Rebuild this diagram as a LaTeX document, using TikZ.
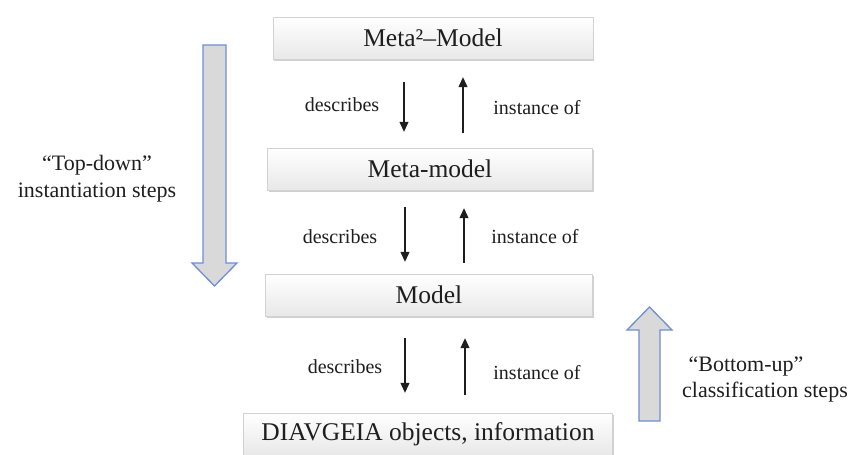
\documentclass[tikz,border=0pt]{standalone}
\usepackage{fontspec}
\setmainfont{Liberation Serif}
\usetikzlibrary{arrows.meta,shadows}
\definecolor{txt}{HTML}{1E1E1E}
\definecolor{bigfill}{HTML}{D9D9D9}
\definecolor{bigline}{HTML}{6C8FD6}
\tikzset{
  box/.style={draw=gray!35, line width=0.4pt, shading=axis, top color=white, bottom color=gray!18,
    minimum height=42pt, inner sep=0pt, font=\fontsize{25.5}{28}\selectfont, text=txt,
    drop shadow={shadow xshift=1.2pt, shadow yshift=-2.2pt, opacity=0.5, fill=gray!75}},
  lbl/.style={font=\fontsize{20}{22}\selectfont, text=txt, inner sep=0pt},
  side/.style={font=\fontsize{22}{24}\selectfont, text=txt, inner sep=0pt},
  thinarrow/.style={draw=txt, line width=1.1pt, -{Triangle[width=9pt,length=10pt]}},
  bigarrow/.style={draw=bigline, fill=bigfill, line width=1.3pt, line join=miter}
}
\begin{document}
\begin{tikzpicture}[x=1pt,y=-1pt]
\useasboundingbox (0,0) rectangle (852,455);
% boxes
\node[box, minimum width=320pt] (m2) at (433,38) {Meta²–Model};
\node[box, minimum width=325pt] (mm) at (430,169) {Meta-model};
\node[box, minimum width=327pt] (mo) at (429,295) {Model};
\node[box, minimum width=369pt] (dv) at (428,434) {DIAVGEIA objects, information};
% thin arrows, pair 1
\draw[thinarrow, shorten <=23pt, shorten >=16pt] ([xshift=-29pt]m2.south) -- ([xshift=-29pt]m2.south |- mm.north);
\draw[thinarrow, shorten <=15pt, shorten >=18pt] ([xshift=30pt]m2.south |- mm.north) -- ([xshift=30pt]m2.south);
% pair 2
\draw[thinarrow, shorten <=17pt, shorten >=12pt] ([xshift=-25pt]mm.south) -- ([xshift=-25pt]mm.south |- mo.north);
\draw[thinarrow, shorten <=11pt, shorten >=18pt] ([xshift=34pt]mm.south |- mo.north) -- ([xshift=34pt]mm.south);
% pair 3
\draw[thinarrow, shorten <=22pt, shorten >=20pt] ([xshift=-24pt]mo.south) -- ([xshift=-24pt]mo.south |- dv.north);
\draw[thinarrow, shorten <=18pt, shorten >=22pt] ([xshift=36pt]mo.south |- dv.north) -- ([xshift=36pt]mo.south);
% labels
\node[lbl] (d1) at (342,105) {describes};
\node[lbl] (i1) at (537,108) {instance of};
\node[lbl] (d2) at (340,237) {describes};
\node[lbl] (i2) at (535,237) {instance of};
\node[lbl] (d3) at (345,367) {describes};
\node[lbl] (i3) at (537,373) {instance of};
% big arrows
\draw[bigarrow] (203,45) -- (226,45) -- (226,263) -- (237,263) -- (214.5,286) -- (192,263) -- (203,263) -- cycle;
\draw[bigarrow] (639,421) -- (660,421) -- (660,330) -- (672,330) -- (649.5,307) -- (627,330) -- (639,330) -- cycle;
% side texts
\node[side] (td1) at (97,165) {``Top-down''};
\node[side] (td2) at (97,193) {instantiation steps};
\node[side] (bu1) at (746,367) {``Bottom-up''};
\node[side] (bu2) at (765,392) {classification steps};
\end{tikzpicture}
\end{document}
